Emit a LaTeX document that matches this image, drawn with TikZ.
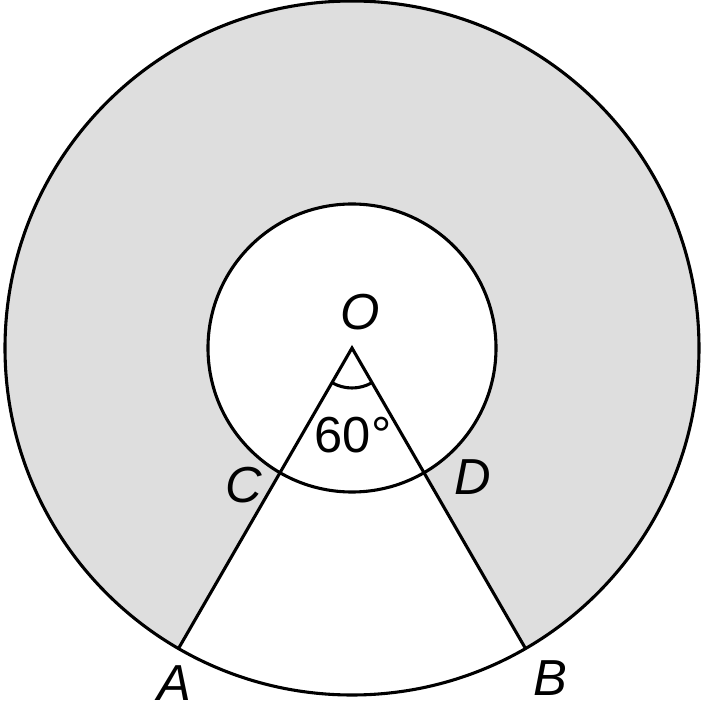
\documentclass[tikz,border=0pt]{standalone}
\usepackage{fontspec}
\setmainfont{Liberation Sans}
\usetikzlibrary{positioning,calc}

\tikzset{
  ring/.style = {line width = 2.2pt},
  ptlabel/.style = {font = \fontsize{36}{38}\selectfont\itshape},
}

\begin{document}
\begin{tikzpicture}[x = 0.025cm, y = 0.025cm]
    \useasboundingbox (0, 0) rectangle (704, 712);

    \coordinate (O) at (352, 364);
    \coordinate (A) at ($(O) + (240:347)$);
    \coordinate (B) at ($(O) + (300:347)$);
    \coordinate (C) at ($(O) + (240:144)$);
    \coordinate (D) at ($(O) + (300:144)$);

    % shaded part of the ring
    \fill [black!13] (B) arc (300:600:347) -- (C) arc (240:-60:144) -- cycle;

    \draw [ring] (O) circle (347);
    \draw [ring] (O) circle (144);
    \draw [ring] (A) -- (O) -- (B);
    \draw [ring] ($(O) + (240:40)$) arc (240:300:40);

    \node [ptlabel] (lO) at (360, 400) {O};
    \node [font = \fontsize{36}{38}\selectfont] (ang) at (353, 277) {60°};
    \node [ptlabel] (lC) at (244, 227) {C};
    \node [ptlabel] (lD) at (473, 235) {D};
    \node [ptlabel] (lA) at (174, 29) {A};
    \node [ptlabel] (lB) at (550, 34) {B};
\end{tikzpicture}
\end{document}
